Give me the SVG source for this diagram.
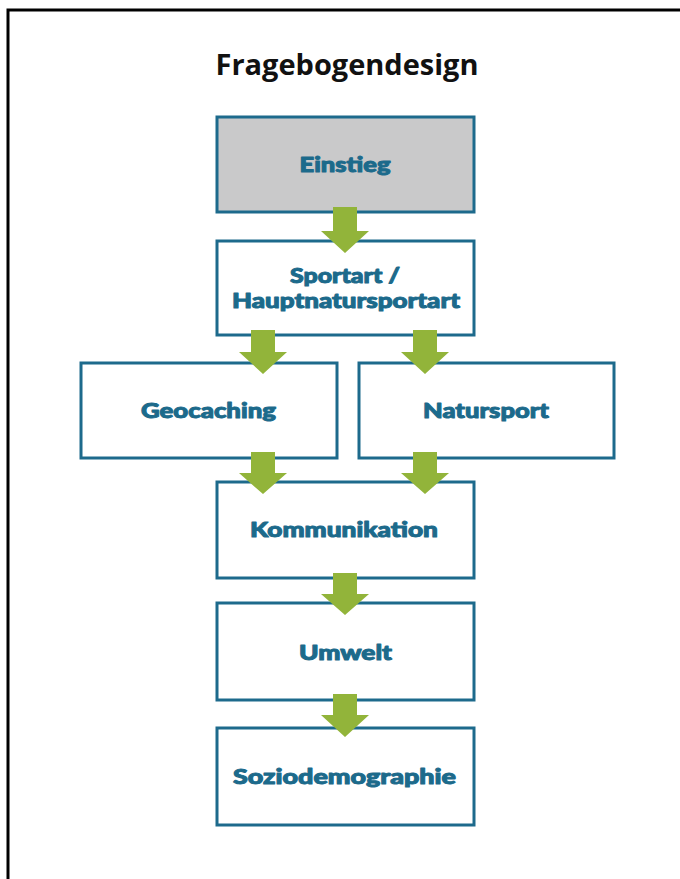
<svg xmlns="http://www.w3.org/2000/svg" width="680" height="879" viewBox="0 0 680 879">
<style>
.box{fill:#ffffff;stroke:#1d6a8c;stroke-width:3}
.gray{fill:#c9c9ca}
.lbl{font-family:Lato,"Open Sans","Liberation Sans",sans-serif;font-weight:900;font-size:21px;fill:#1c6a8b;stroke:#1c6a8b;stroke-width:1;stroke-linejoin:round;text-anchor:middle}
.title{font-family:"Open Sans","Liberation Sans",sans-serif;font-weight:700;font-size:28px;fill:#111111;text-anchor:middle}
.arr{fill:#92b43a}
</style>
<rect x="0" y="0" width="680" height="879" fill="#ffffff"/>
<rect x="8" y="10" width="720" height="920" fill="none" stroke="#000000" stroke-width="3"/>
<text class="title" x="347" y="75" textLength="263" lengthAdjust="spacingAndGlyphs">Fragebogendesign</text>
<g id="einstieg"><rect class="box gray" x="217" y="117" width="257" height="95"/><text class="lbl" x="345" y="172" textLength="91" lengthAdjust="spacingAndGlyphs">Einstieg</text></g>
<g id="sportart"><rect class="box" x="217" y="241" width="257" height="94"/><text class="lbl" x="345" y="283" textLength="110" lengthAdjust="spacingAndGlyphs">Sportart /</text><text class="lbl" x="346" y="308" textLength="228" lengthAdjust="spacingAndGlyphs">Hauptnatursportart</text></g>
<g id="geocaching"><rect class="box" x="81" y="363" width="256" height="95"/><text class="lbl" x="208.5" y="418" textLength="135" lengthAdjust="spacingAndGlyphs">Geocaching</text></g>
<g id="natursport"><rect class="box" x="359" y="363" width="255" height="95"/><text class="lbl" x="486" y="418" textLength="126" lengthAdjust="spacingAndGlyphs">Natursport</text></g>
<g id="kommunikation"><rect class="box" x="217" y="482" width="257" height="96"/><text class="lbl" x="344" y="537" textLength="188" lengthAdjust="spacingAndGlyphs">Kommunikation</text></g>
<g id="umwelt"><rect class="box" x="217" y="603" width="257" height="97"/><text class="lbl" x="345.5" y="660" textLength="93" lengthAdjust="spacingAndGlyphs">Umwelt</text></g>
<g id="soziodemographie"><rect class="box" x="217" y="728" width="257" height="97"/><text class="lbl" x="344.5" y="784" textLength="223" lengthAdjust="spacingAndGlyphs">Soziodemographie</text></g>
<g id="connectors">
<path class="arr" d="M333 207H357V231H369L345 253L321 231H333Z"/>
<path class="arr" d="M251 330H275V352H287L263 374L239 352H251Z"/>
<path class="arr" d="M413 330H437V352H449L425 374L401 352H413Z"/>
<path class="arr" d="M251 452H275V473H287L263 494L239 473H251Z"/>
<path class="arr" d="M413 452H437V473H449L425 494L401 473H413Z"/>
<path class="arr" d="M333 573H357V594H369L345 615L321 594H333Z"/>
<path class="arr" d="M333 694H357V715H369L345 737L321 715H333Z"/>
</g>
</svg>
